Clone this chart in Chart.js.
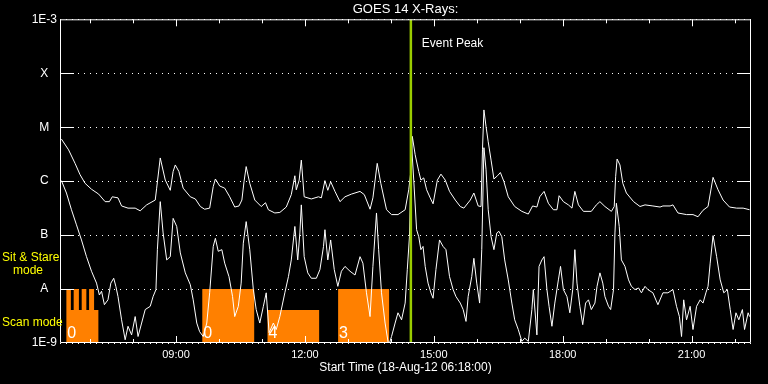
<!DOCTYPE html>
<html lang="en">
<head>
<meta charset="UTF-8">
<title>GOES 14 X-Rays</title>
<style>
  body { margin: 0; background: #000; }
  #box { width: 768px; height: 384px; }
</style>
</head>
<body>
<div id="box"><canvas id="xrays"></canvas></div>

<script src="https://cdn.jsdelivr.net/npm/chart.js@4.4.7/dist/chart.umd.min.js"></script>
<script>
// time axis: minutes after the start time 18-Aug-12 06:18:00
const xMax = 965;
const xTickMinutes = [162, 342, 522, 702, 882];
const xTickLabels = ['09:00', '12:00', '15:00', '18:00', '21:00'];

// flux axis: decades with the GOES class letters
const yTickValues = [1e-9, 1e-8, 1e-7, 1e-6, 1e-5, 1e-4, 1e-3];
const yTickLabels = ['1E-9', 'A', 'B', 'C', 'M', 'X', '1E-3'];

// long channel (upper curve), log10 of flux in W/m2
const longTimes = [2, 12, 21, 28, 35, 44, 54, 63, 69, 73, 81, 86, 95, 105, 112, 121, 133, 135, 140, 147,
  154, 158, 161, 166, 172, 182, 189, 196, 202, 209, 214, 217, 223, 230, 237, 244, 250, 254, 257, 260,
  265, 272, 281, 287, 291, 300, 307, 316, 323, 328, 330, 334, 337, 341, 351, 361, 365, 370, 374, 378,
  384, 391, 398, 407, 419, 425, 433, 437, 443, 448, 456, 463, 472, 482, 487, 490, 492, 496, 501, 504,
  508, 512, 517, 521, 527, 532, 538, 544, 552, 559, 564, 573, 578, 584, 588, 590, 592, 595, 598, 602,
  606, 611, 615, 620, 626, 635, 645, 654, 660, 666, 670, 676, 682, 689, 694, 697, 703, 710, 715, 719,
  724, 731, 742, 749, 754, 761, 770, 774, 776, 778, 782, 786, 791, 801, 810, 817, 828, 838, 842, 852,
  856, 863, 875, 884, 891, 898, 905, 912, 919, 926, 935, 945, 954, 963];
const longLog = [-5.22, -5.42, -5.67, -5.88, -6.04, -6.15, -6.24, -6.38, -6.38, -6.29, -6.31, -6.46, -6.50, -6.50, -6.55, -6.44, -6.35, -6.13, -5.57, -5.98,
  -6.17, -5.82, -5.70, -5.82, -6.13, -6.29, -6.33, -6.47, -6.52, -6.50, -6.10, -5.96, -6.09, -6.13, -6.29, -6.48, -6.46, -6.35, -6.01, -5.73,
  -6.04, -6.35, -6.47, -6.40, -6.53, -6.59, -6.58, -6.48, -6.25, -5.90, -6.16, -5.98, -5.61, -6.29, -6.33, -6.29, -6.31, -5.99, -6.17, -6.01,
  -6.19, -6.38, -6.29, -6.24, -6.19, -6.25, -6.52, -6.31, -5.67, -6.04, -6.53, -6.62, -6.62, -6.53, -6.16, -5.82, -5.17, -5.51, -5.82, -5.98,
  -5.94, -6.16, -6.31, -6.42, -5.98, -5.87, -5.98, -6.19, -6.35, -6.47, -6.50, -6.35, -6.22, -6.46, -6.47, -5.42, -4.68, -4.99, -5.27, -5.61,
  -5.96, -5.90, -5.84, -6.01, -6.29, -6.47, -6.56, -6.61, -6.46, -6.48, -6.29, -6.19, -6.41, -6.53, -6.53, -6.27, -6.38, -6.44, -6.50, -6.19,
  -6.44, -6.56, -6.56, -6.44, -6.38, -6.47, -6.56, -6.47, -5.91, -5.59, -5.70, -6.04, -6.22, -6.38, -6.47, -6.44, -6.46, -6.48, -6.46, -6.46,
  -6.44, -6.59, -6.62, -6.62, -6.66, -6.54, -6.47, -5.93, -6.16, -6.35, -6.48, -6.50, -6.50, -6.53];

// short channel (lower curve), log10 of flux in W/m2
const shortTimes = [2, 9, 16, 23, 30, 37, 44, 51, 55, 58, 62, 67, 71, 75, 78, 81, 86, 91, 95, 100,
  105, 109, 114, 119, 126, 130, 134, 136, 140, 144, 149, 154, 158, 163, 168, 175, 182, 186, 191, 195,
  200, 205, 209, 214, 217, 221, 226, 230, 236, 241, 244, 249, 253, 256, 260, 265, 270, 274, 279, 284,
  288, 292, 298, 302, 307, 314, 319, 323, 328, 332, 335, 337, 341, 346, 351, 358, 363, 368, 370, 374,
  378, 383, 388, 393, 398, 405, 412, 419, 423, 428, 433, 437, 442, 445, 449, 454, 459, 463, 468, 472,
  477, 482, 485, 488, 491, 494, 498, 501, 504, 507, 510, 514, 518, 521, 525, 530, 535, 539, 544, 549,
  553, 559, 563, 567, 570, 575, 578, 582, 586, 589, 592, 595, 598, 602, 606, 610, 613, 617, 621, 626,
  631, 635, 640, 645, 649, 654, 659, 661, 666, 669, 673, 676, 680, 683, 687, 691, 696, 699, 703, 708,
  712, 716, 719, 722, 726, 730, 734, 738, 742, 747, 750, 754, 758, 761, 766, 769, 773, 775, 777, 781,
  784, 789, 794, 798, 803, 808, 812, 817, 821, 828, 835, 842, 849, 856, 861, 865, 868, 871, 875, 880,
  884, 889, 894, 898, 902, 905, 908, 912, 917, 922, 927, 932, 936, 940, 944, 948, 953, 956, 961, 963];
const shortLog = [-5.99, -6.22, -6.53, -6.81, -7.09, -7.40, -7.67, -7.89, -8.11, -8.04, -8.29, -8.20, -7.89, -7.80, -7.95, -8.14, -8.57, -8.94, -8.69, -8.85,
  -8.51, -8.88, -8.63, -8.38, -8.32, -8.14, -8.01, -7.27, -6.38, -6.96, -7.46, -7.40, -6.69, -6.84, -7.33, -7.70, -7.92, -8.20, -8.63, -8.79,
  -8.88, -8.63, -8.07, -7.21, -7.06, -7.30, -7.27, -7.52, -7.77, -8.14, -8.51, -8.32, -7.89, -7.15, -6.75, -7.27, -8.01, -8.38, -8.63, -8.32,
  -8.07, -8.81, -8.63, -8.75, -8.51, -8.07, -7.77, -7.46, -6.84, -7.46, -6.96, -6.44, -7.40, -7.70, -7.80, -7.80, -7.64, -7.21, -6.90, -7.46,
  -7.09, -7.64, -7.95, -7.67, -7.58, -7.67, -7.74, -7.40, -7.52, -8.07, -8.51, -7.58, -6.59, -7.27, -8.07, -8.63, -9.05, -8.88, -8.63, -8.44,
  -8.57, -8.26, -7.64, -7.03, -5.33, -5.98, -6.90, -7.03, -7.27, -7.21, -7.58, -7.89, -8.07, -8.17, -7.64, -7.09, -7.21, -7.27, -7.77, -8.01,
  -8.14, -8.26, -8.38, -8.60, -8.14, -7.77, -7.43, -7.89, -8.26, -7.27, -5.38, -5.79, -6.53, -7.03, -7.27, -6.96, -6.93, -7.03, -7.46, -7.83,
  -8.26, -8.57, -8.75, -8.97, -8.91, -8.97, -8.38, -8.01, -8.85, -7.58, -7.46, -7.40, -8.01, -8.32, -8.69, -8.26, -7.83, -7.58, -8.01, -8.14,
  -8.44, -8.01, -7.27, -7.89, -8.32, -8.66, -8.26, -8.20, -8.38, -8.26, -7.95, -7.70, -7.89, -8.14, -8.32, -8.38, -8.01, -6.96, -6.41, -6.84,
  -7.46, -7.58, -7.83, -7.95, -8.01, -7.98, -8.07, -7.95, -8.01, -8.07, -8.29, -8.07, -8.07, -8.01, -8.32, -8.51, -8.88, -8.20, -8.57, -8.32,
  -8.75, -8.32, -8.20, -8.26, -8.07, -7.95, -7.52, -7.01, -7.40, -7.83, -8.07, -8.01, -8.38, -8.75, -8.44, -8.57, -8.38, -8.75, -8.44, -8.51];

// observing mode bars (level held until the next time)
const modeTimes = [0, 8.9, 15.2, 19.1, 26.4, 30.3, 36.8, 40.6, 47.6, 53.6, 198.7, 271.2, 289.8, 361.9, 388.4, 459.6, 965];
const modeLevels = [1e-9, 1e-8, 4.1e-9, 1e-8, 4.1e-9, 1e-8, 4.1e-9, 1e-8, 4.1e-9, 1e-9, 1e-8, 1e-9, 4.1e-9, 1e-9, 1e-8, 1e-9, 1e-9];
const modeLabels = ['0', '0', '4', '3'];
const modeLabelTimes = [8.9, 198.7, 289.8, 388.4];

// event peak, 14:28
const eventPeak = 490;

const toPoints = (ts, vs) => ts.map((t, i) => ({ x: t, y: Math.pow(10, vs[i]) }));

Chart.defaults.font.family = 'Liberation Sans';
Chart.defaults.color = '#fff';

// frame, inward ticks and the text labels
const decorations = {
  id: 'decorations',
  afterDraw(chart) {
    const { ctx, chartArea: a, scales: { x, y } } = chart;
    ctx.save();
    ctx.strokeStyle = '#fff';
    ctx.lineWidth = 1;
    ctx.beginPath();
    ctx.rect(a.left + 0.5, a.top + 0.5, a.right - a.left - 1, a.bottom - a.top - 1);
    for (let m = 42; m < xMax; m += 60) {
      const px = Math.round(x.getPixelForValue(m)) + 0.5;
      const len = xTickMinutes.includes(m) ? 7 : 4;
      ctx.moveTo(px, a.bottom); ctx.lineTo(px, a.bottom - len);
      ctx.moveTo(px, a.top); ctx.lineTo(px, a.top + len);
    }
    yTickValues.slice(1, -1).forEach(v => {
      const py = Math.round(y.getPixelForValue(v)) + 0.5;
      ctx.moveTo(a.left, py); ctx.lineTo(a.left + 14, py);
      ctx.moveTo(a.right, py); ctx.lineTo(a.right - 14, py);
    });
    ctx.stroke();

    ctx.fillStyle = '#fff';
    ctx.textBaseline = 'middle';
    ctx.font = '12px "Liberation Sans"';
    ctx.fillText('Event Peak', x.getPixelForValue(eventPeak) + 11, a.top + 24);

    ctx.textBaseline = 'alphabetic';
    ctx.font = '16px "Liberation Sans"';
    modeLabels.forEach((lab, i) => {
      ctx.fillText(lab, x.getPixelForValue(modeLabelTimes[i]) + 1, a.bottom - 5);
    });

    ctx.fillStyle = '#ffff00';
    ctx.textBaseline = 'middle';
    ctx.font = '12px "Liberation Sans"';
    ctx.fillText('Sit & Stare', 2, 258);
    ctx.fillText('mode', 13, 271);
    ctx.fillText('Scan mode', 2, 323);
    ctx.restore();
  }
};

new Chart(document.getElementById('xrays'), {
  type: 'line',
  data: {
    datasets: [
      {
        label: 'Event Peak',
        data: [{ x: eventPeak, y: 1e-9 }, { x: eventPeak, y: 1e-3 }],
        borderColor: '#99cc00',
        borderWidth: 2.5
      },
      {
        label: 'Long',
        data: toPoints(longTimes, longLog),
        borderColor: '#fff',
        borderWidth: 1
      },
      {
        label: 'Short',
        data: toPoints(shortTimes, shortLog),
        borderColor: '#fff',
        borderWidth: 1
      },
      {
        label: 'Mode',
        data: modeTimes.map((t, i) => ({ x: t, y: modeLevels[i] })),
        stepped: true,
        borderWidth: 0,
        borderColor: 'rgba(0,0,0,0)',
        backgroundColor: '#ff8000',
        fill: 'start'
      }
    ]
  },
  options: {
    responsive: true,
    maintainAspectRatio: false,
    animation: false,
    layout: { padding: { left: 0, right: 17, top: 0, bottom: 0 } },
    elements: { point: { radius: 0 }, line: { tension: 0 } },
    plugins: {
      legend: { display: false },
      tooltip: { enabled: false },
      title: {
        display: true,
        text: 'GOES 14 X-Rays:',
        fullSize: false,
        color: '#fff',
        font: { size: 13, weight: 'normal' },
        padding: { top: 2, bottom: 1.7 }
      }
    },
    scales: {
      x: {
        type: 'linear',
        min: 0,
        max: xMax,
        afterBuildTicks: s => { s.ticks = xTickMinutes.map(v => ({ value: v })); },
        afterFit: s => { s.height = 41; },
        ticks: {
          padding: 5,
          color: '#fff',
          font: { size: 11 },
          maxRotation: 0,
          callback: (v, i) => xTickLabels[i]
        },
        grid: { display: false, drawTicks: false },
        border: { display: false },
        title: {
          display: true,
          text: 'Start Time (18-Aug-12 06:18:00)',
          color: '#fff',
          font: { size: 12 },
          padding: { top: 0, bottom: 9 }
        }
      },
      y: {
        type: 'logarithmic',
        min: 1e-9,
        max: 1e-3,
        afterBuildTicks: s => { s.ticks = yTickValues.map(v => ({ value: v })); },
        afterFit: s => { s.width = 60; },
        ticks: {
          padding: 3,
          crossAlign: 'center',
          color: '#fff',
          font: { size: 12 },
          callback: (v, i) => yTickLabels[i]
        },
        grid: { color: '#fff', lineWidth: 1, drawTicks: false },
        border: { display: false, dash: [1, 5] }
      }
    }
  },
  plugins: [decorations]
});
</script>
</body>
</html>
